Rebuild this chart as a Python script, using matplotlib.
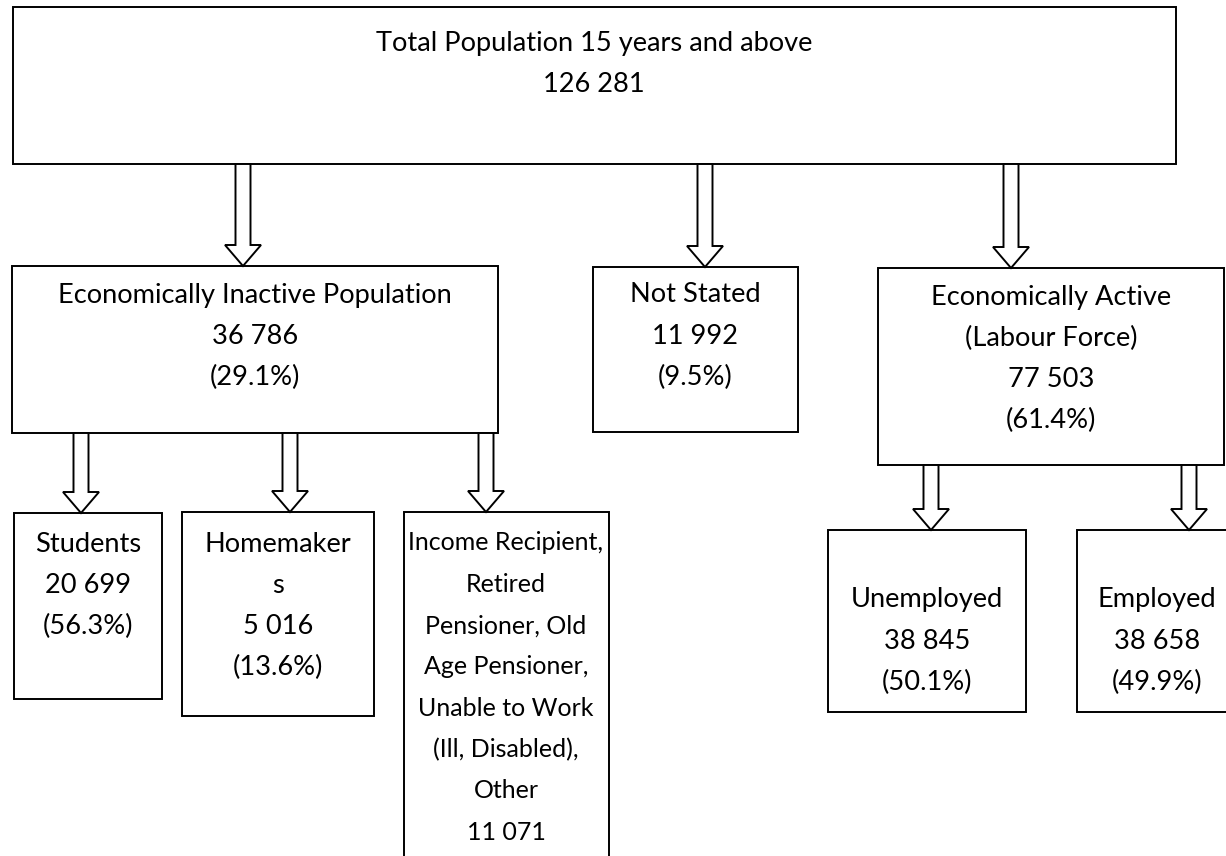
import matplotlib.pyplot as plt
from matplotlib.patches import Polygon, Rectangle

# chart data
node_names = ["total", "inactive", "not_stated", "active", "students",
              "homemakers", "income", "unemployed", "employed"]
node_labels = [
    "Total Population 15 years and above",
    "Economically Inactive Population",
    "Not Stated",
    "Economically Active\n(Labour Force)",
    "Students",
    "Homemaker\ns",
    "Income Recipient,\nRetired\nPensioner, Old\nAge Pensioner,\nUnable to Work\n(Ill, Disabled),\nOther",
    "Unemployed",
    "Employed",
]
node_counts = [126281, 36786, 11992, 77503, 20699, 5016, 11071, 38845, 38658]
node_pcts = [None, 29.1, 9.5, 61.4, 56.3, 13.6, None, 50.1, 49.9]
edges = [("total", "inactive"), ("total", "not_stated"), ("total", "active"),
         ("inactive", "students"), ("inactive", "homemakers"), ("inactive", "income"),
         ("active", "unemployed"), ("active", "employed")]

# layout in pixels: x0, y0, x1, y1, text centre x, y of first text line, font size
boxes = {
    "total": (13, 7, 1176, 164, 594, 43, 19.6),
    "inactive": (12, 266, 498, 433, 255, 295, 19.6),
    "not_stated": (593, 267, 798, 432, 695, 295, 19.6),
    "active": (878, 268, 1224, 465, 1051, 297, 19.6),
    "students": (14, 513, 162, 699, 88, 544, 19.6),
    "homemakers": (182, 512, 374, 716, 278, 544, 19.6),
    "income": (404, 512, 609, 880, 506, 543, 18),
    "unemployed": (828, 530, 1026, 712, 927, 600, 19.6),
    "employed": (1077, 530, 1260, 712, 1157, 600, 19.6),
}
arrow_x = {"inactive": 243, "not_stated": 705, "active": 1011,
           "students": 81, "homemakers": 290, "income": 486,
           "unemployed": 931, "employed": 1189}
line_step = 41.3
lw = 1.4


def fmt(n):
    return f"{n:,}".replace(",", " ")


fig = plt.figure(figsize=(12.26, 8.56), dpi=100)
ax = fig.add_axes([0, 0, 1, 1])
ax.set_xlim(0, 1226)
ax.set_ylim(856, 0)
ax.axis("off")

for name, label, count, pct in zip(node_names, node_labels, node_counts, node_pcts):
    x0, y0, x1, y1, cx, ty, fs = boxes[name]
    ax.add_patch(Rectangle((x0, y0), x1 - x0, y1 - y0, facecolor="white",
                           edgecolor="black", lw=lw, zorder=1))
    lines = label.split("\n") + [fmt(count)]
    if pct is not None:
        lines.append(f"({pct}%)")
    for i, line in enumerate(lines):
        ax.text(cx, ty + i * line_step, line, ha="center", va="center",
                fontsize=fs, family="Lato", color="black", zorder=3)

for parent, child in edges:
    x = arrow_x[child]
    y_start = boxes[parent][3]
    y_end = boxes[child][1]
    hw, HW, hl = 7.5, 18, 21
    pts = [(x - hw, y_start), (x + hw, y_start), (x + hw, y_end - hl),
           (x + HW, y_end - hl), (x, y_end), (x - HW, y_end - hl),
           (x - hw, y_end - hl)]
    ax.add_patch(Polygon(pts, closed=True, facecolor="white",
                         edgecolor="black", lw=lw, zorder=2))

fig.savefig("out.png", dpi=100)
